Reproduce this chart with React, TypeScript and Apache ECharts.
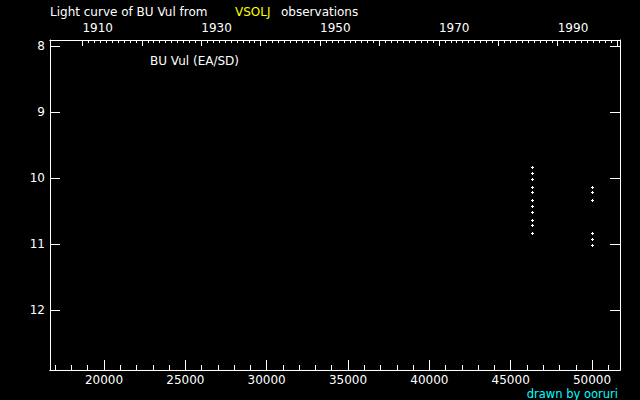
import React, { useEffect, useRef } from 'react';
import * as echarts from 'echarts';

// ---- data ----
const jdRange = [16680, 51720];
const magRange = [7.91, 12.91];

const jdMajorTicks = [20000, 25000, 30000, 35000, 40000, 45000, 50000];
const jdMinorTicks = [
  17000, 18000, 19000, 20000, 21000, 22000, 23000, 24000, 25000, 26000, 27000, 28000,
  29000, 30000, 31000, 32000, 33000, 34000, 35000, 36000, 37000, 38000, 39000, 40000,
  41000, 42000, 43000, 44000, 45000, 46000, 47000, 48000, 49000, 50000, 51000,
];
const magTicks = [8, 9, 10, 11, 12];
const yearMajorTicks = [1910, 1920, 1930, 1940, 1950, 1960, 1970, 1980, 1990, 2000];
const yearLabels = [1910, 1930, 1950, 1970, 1990];
const yearMinorStart = 1910;
const yearMinorEnd = 2000;

const obsJD = [
  46330, 46330, 46330, 46330, 46330, 46330, 46330, 46330, 46330, 46330, 46330,
  50020, 50020, 50020, 50020, 50020, 50020,
];
const obsMag = [
  9.83, 9.93, 10.02, 10.13, 10.22, 10.33, 10.43, 10.52, 10.63, 10.72, 10.83,
  10.13, 10.22, 10.33, 10.83, 10.93, 11.02,
];

const jdToYear = (jd: number) => 2000 + (jd - 51545) / 365.25;

const FONT = '"DejaVu Sans", sans-serif';

export default function App() {
  const ref = useRef<HTMLDivElement>(null);
  useEffect(() => {
    document.body.style.margin = '0';
    document.body.style.background = '#000';
    const chart = echarts.init(ref.current!, null, { renderer: 'svg' });
    const yearMinorTicks: number[] = [];
    for (let y = yearMinorStart; y <= yearMinorEnd; y++) yearMinorTicks.push(y);
    const line = { show: true, onZero: false, lineStyle: { color: '#fff', width: 1 } };
    const yearMin = jdToYear(jdRange[0]);
    const yearMax = jdToYear(jdRange[1]);
    const labelStyle = {
      color: '#fff', fontSize: 12, lineHeight: 10, fontFamily: FONT,
      formatter: (v: number) => String(v),
    };
    const tick = (length: number, values: number[]) => ({
      show: true, inside: true, length, customValues: values,
      lineStyle: { color: '#fff', width: 1 },
    });
    chart.setOption({
      animation: false,
      backgroundColor: '#000',
      grid: { left: 50, right: 20, top: 40, bottom: 30, containLabel: false },
      xAxis: [
        {
          type: 'value', position: 'bottom', min: jdRange[0], max: jdRange[1],
          axisLine: line, splitLine: { show: false },
          axisTick: tick(10, jdMajorTicks),
          axisLabel: { ...labelStyle, margin: 5, customValues: jdMajorTicks },
        },
        {
          type: 'value', position: 'bottom', min: jdRange[0], max: jdRange[1],
          axisLine: line, splitLine: { show: false },
          axisTick: tick(5, jdMinorTicks),
          axisLabel: { show: false },
        },
        {
          type: 'value', position: 'top', min: yearMin, max: yearMax,
          axisLine: line, splitLine: { show: false },
          axisTick: tick(6, yearMajorTicks),
          axisLabel: { ...labelStyle, margin: 7, align: 'left', customValues: yearLabels },
        },
        {
          type: 'value', position: 'top', min: yearMin, max: yearMax,
          axisLine: line, splitLine: { show: false },
          axisTick: tick(3, yearMinorTicks),
          axisLabel: { show: false },
        },
      ],
      yAxis: [
        {
          type: 'value', position: 'left', inverse: true, min: magRange[0], max: magRange[1],
          axisLine: line, splitLine: { show: false },
          axisTick: tick(10, magTicks),
          axisLabel: { ...labelStyle, margin: 5, customValues: magTicks },
        },
        {
          type: 'value', position: 'right', inverse: true, min: magRange[0], max: magRange[1],
          axisLine: line, splitLine: { show: false },
          axisTick: tick(10, magTicks),
          axisLabel: { show: false },
        },
      ],
      series: [
        {
          type: 'custom', xAxisIndex: 0, yAxisIndex: 0,
          data: obsJD.map((jd, i) => [jd, obsMag[i]]),
          encode: { x: 0, y: 1 },
          renderItem: (params: any, api: any) => {
            const p = api.coord([api.value(0), api.value(1)]);
            const x = Math.round(p[0]);
            const y = Math.round(p[1]);
            return {
              type: 'group',
              children: [
                { type: 'rect', shape: { x: x - 1, y, width: 3, height: 1 }, style: { fill: '#fff' } },
                { type: 'rect', shape: { x, y: y - 1, width: 1, height: 3 }, style: { fill: '#fff' } },
              ],
            };
          },
        },
      ],
      graphic: [
        { type: 'text', x: 50, y: 12, style: { text: 'Light curve of BU Vul from', fill: '#fff', font: `12px ${FONT}`, verticalAlign: 'middle' } },
        { type: 'text', x: 235, y: 12, style: { text: 'VSOLJ', fill: '#ffff00', font: `12px ${FONT}`, verticalAlign: 'middle' } },
        { type: 'text', x: 281, y: 12, style: { text: 'observations', fill: '#fff', font: `12px ${FONT}`, verticalAlign: 'middle' } },
        { type: 'text', x: 150, y: 61, style: { text: 'BU Vul (EA/SD)', fill: '#fff', font: `12px ${FONT}`, verticalAlign: 'middle' } },
        { type: 'text', x: 618, y: 393.5, style: { text: 'drawn by ooruri', fill: '#00ffff', font: `11.5px ${FONT}`, lineHeight: 10, align: 'right', verticalAlign: 'middle' } },
      ],
    });
    return () => chart.dispose();
  }, []);
  return <div ref={ref} style={{ position: 'fixed', left: 0, top: 0, width: 640, height: 400, background: '#000' }} />;
}
